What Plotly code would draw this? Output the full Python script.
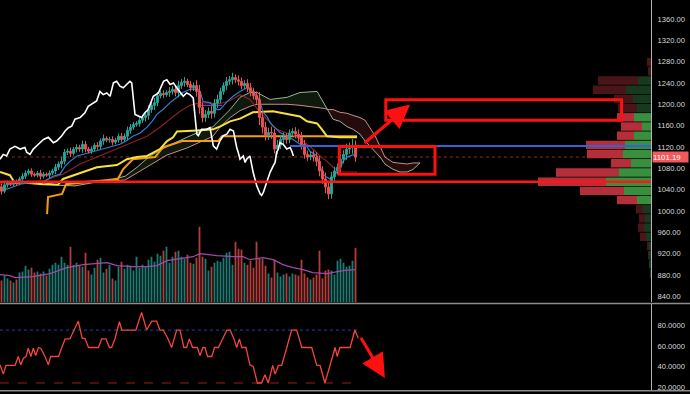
import plotly.graph_objects as go

# ---------------- data ----------------
CLOSE = [1037, 1049, 1052, 1050, 1054, 1052, 1060, 1065, 1071, 1075,
         1069, 1067, 1071, 1065, 1069, 1067, 1071, 1075, 1082, 1088,
         1093, 1110, 1112, 1108, 1116, 1119, 1116, 1125, 1116, 1112,
         1116, 1123, 1121, 1131, 1136, 1133, 1134, 1129, 1133, 1140,
         1134, 1140, 1151, 1157, 1162, 1164, 1170, 1175, 1179, 1190,
         1198, 1203, 1216, 1220, 1218, 1222, 1224, 1228, 1222, 1235,
         1241, 1243, 1237, 1231, 1235, 1224, 1194, 1175, 1181, 1187,
         1183, 1202, 1209, 1224, 1235, 1243, 1246, 1250, 1246, 1243,
         1235, 1239, 1231, 1224, 1216, 1209, 1175, 1157, 1142, 1147,
         1146, 1116, 1123, 1134, 1138, 1134, 1146, 1149, 1144, 1138,
         1125, 1106, 1101, 1105, 1101, 1093, 1075, 1060, 1045, 1032,
         1064, 1075, 1082, 1097, 1106, 1116, 1119, 1123, 1101.19]
FIRST_OPEN = 1045
WICK = [6, 4, 5, 3, 4, 5, 4, 6, 5, 4, 5, 3, 4, 6, 4, 3, 5, 4, 6, 5,
        8, 6, 5, 7, 4, 6, 5, 7, 6, 4, 5, 4, 6, 5, 7, 4, 5, 6, 4, 5,
        6, 5, 7, 6, 5, 4, 6, 5, 7, 8, 6, 9, 7, 5, 6, 4, 8, 6, 7, 9,
        6, 8, 5, 7, 6, 10, 12, 9, 8, 7, 10, 8, 9, 7, 6, 8, 7, 9, 6, 8,
        7, 6, 8, 9, 7, 8, 14, 12, 10, 9, 11, 8, 10, 7, 9, 8, 7, 6, 8, 9,
        10, 8, 7, 6, 8, 9, 10, 9, 12, 10, 9, 8, 7, 9, 8, 10, 9, 12, 9]
VOLUME = [22, 27, 24, 22, 20, 23, 30, 31, 37, 33, 35, 30, 31, 29, 31, 27, 34, 38, 40, 38,
          46, 40, 38, 56, 38, 40, 37, 36, 50, 32, 28, 35, 43, 45, 30, 34, 38, 24, 22, 36,
          41, 34, 38, 37, 32, 46, 35, 38, 36, 43, 46, 41, 49, 47, 52, 56, 40, 46, 51, 52,
          46, 44, 48, 40, 39, 45, 76, 46, 44, 32, 36, 40, 42, 41, 45, 50, 51, 38, 61, 54,
          53, 40, 38, 42, 35, 61, 44, 44, 37, 29, 25, 43, 30, 26, 28, 29, 26, 29, 28, 27,
          43, 29, 25, 23, 25, 28, 52, 24, 32, 33, 32, 28, 42, 44, 40, 36, 37, 42, 55]
VOL_MA_X = [-0.5, 2.8, 4.5, 10.5, 16.2, 21.8, 27.2, 32.8, 35.2, 38.5, 43.8, 48.5, 51.8, 55.2, 59.5,
            63.8, 66.2, 68.5, 71.8, 77.2, 80.5, 82.8, 87.2, 90.5, 93.8, 97.2, 100.5, 103.8, 108.5, 113.8, 117.8]
VOL_MA = [28, 27, 25, 26, 29, 35, 38, 39, 40, 37, 36, 36, 37, 42, 44,
          46, 49, 48, 47, 46, 46, 43, 45, 43, 38, 35, 33, 30, 29, 32, 33]

WHITE_X = [-0.5, 0.6, 1.7, 2.8, 4.5, 6.2, 7.8, 8.4, 9.5, 10.6, 12.3, 14, 15.6, 17.3, 18.4, 20.1, 21.2, 22.3,
           23.4, 24.5, 26.2, 27.8, 28.9, 30.1, 31.7, 32.8, 33.9, 35.1, 36.2, 37.3, 38.4, 39.5, 40.6, 41.7,
           42.8, 43.4, 44.5, 45.6, 46.7, 47.8, 48.9, 50.6, 52.3, 54, 55.1, 56.2, 57.3, 58.4, 59.5, 60.6,
           61.7, 62.8, 63.9, 65.1, 65.6, 66.7, 68.4, 69.5, 70.6, 71.7, 72.8, 73.9, 75.1, 76.2, 77.3, 77.8,
           78.4, 78.9, 79.5, 80.6, 81.2, 81.7, 82.8, 83.9, 85.1, 86.2, 86.7, 87.3, 88.4, 89.5, 90.6, 91.2,
           91.7, 92.3, 92.8, 93.9, 95.1, 96.2, 96.7, 97.3]
WHITE_Y = [1097, 1106, 1103, 1116, 1121, 1116, 1119, 1110, 1106, 1116, 1125, 1134, 1138, 1128, 1131, 1141,
           1150, 1156, 1159, 1172, 1175, 1184, 1196, 1200, 1206, 1224, 1218, 1221, 1215, 1240, 1243, 1234,
           1231, 1237, 1243, 1240, 1181, 1178, 1175, 1184, 1190, 1215, 1221, 1243, 1246, 1237, 1240, 1231,
           1224, 1215, 1221, 1218, 1212, 1144, 1141, 1153, 1153, 1156, 1122, 1116, 1131, 1141, 1144, 1153,
           1150, 1134, 1119, 1110, 1097, 1103, 1091, 1097, 1103, 1072, 1047, 1032, 1029, 1035, 1054, 1072,
           1085, 1091, 1110, 1116, 1128, 1125, 1116, 1119, 1113, 1103]

BLUE_X = [-0.5, 1.8, 3.8, 6.2, 8.5, 13.8, 17.2, 19.5, 21.2, 22.8, 25.2, 28.5, 31.8, 36.2, 39.5, 41.8, 43.8,
          46.2, 48.5, 50.2, 51.8, 53.8, 56.2, 58.5, 60.5, 62.8, 65.2, 66.2, 67.2, 69.5, 71.8, 72.8, 75.2,
          77.2, 79.5, 81.8, 82.8, 83.8, 85.2, 86.2, 87.2, 88.5, 89.5, 90.5, 91.8, 92.8, 95.2, 97.2, 99.5,
          101.8, 102.8, 105.2, 106.2, 107.2, 108.5, 109.5, 110.5, 111.8, 112.8, 113.8, 115.2, 117.2, 118.5]
BLUE_Y = [1045, 1041, 1045, 1050, 1052, 1054, 1065, 1069, 1084, 1093, 1103, 1108, 1112, 1119, 1125, 1132, 1140,
          1146, 1157, 1168, 1181, 1190, 1203, 1213, 1222, 1228, 1229, 1224, 1205, 1203, 1190, 1190, 1205,
          1215, 1224, 1231, 1228, 1224, 1215, 1203, 1185, 1177, 1166, 1159, 1153, 1147, 1140, 1134, 1125,
          1121, 1112, 1103, 1084, 1069, 1063, 1060, 1063, 1073, 1078, 1093, 1101, 1105, 1106]

MAROON_X = [-0.5, 13.8, 17.2, 20.5, 26.2, 32.8, 40.5, 43.8, 48.5, 52.8, 56.2, 59.5, 62.8, 66.2, 72.8,
            76.2, 79.5, 82.8, 86.2, 88.5, 91.8, 93.8, 98.8, 101.8, 103.8, 106.2, 108.5, 110.5, 112.8, 118.5]
MAROON_Y = [1052, 1056, 1063, 1069, 1088, 1103, 1121, 1129, 1140, 1157, 1172, 1187, 1198, 1203, 1201,
            1207, 1218, 1209, 1185, 1172, 1153, 1149, 1138, 1125, 1116, 1103, 1093, 1082, 1073, 1073]

YELLOW_X = [-0.5, 2.8, 4.5, 6.2, 13.8, 18.8, 20.5, 25.2, 31.8, 38.5, 41.8, 45.2, 48.5, 52.8, 55.2, 57.2,
            58.5, 65.2, 70.5, 72.8, 76.2, 79.5, 83.8, 90.5, 99.5, 101.8, 105.2, 106.8, 108.5, 112.8, 118.5]
YELLOW_Y = [1073, 1067, 1052, 1054, 1050, 1049, 1060, 1069, 1082, 1086, 1097, 1101, 1103, 1116, 1131, 1138,
            1149, 1151, 1153, 1158, 1168, 1173, 1185, 1187, 1177, 1168, 1164, 1153, 1140, 1138, 1138]

ORANGE_X = [15.2, 15.5, 20.2, 21.5, 38.8, 40.5, 43.8, 51.2, 53.8, 58.8, 60.2, 72.2, 73.5, 118.5]
ORANGE_Y = [994, 1026, 1032, 1050, 1060, 1078, 1097, 1101, 1119, 1129, 1131, 1131, 1140, 1140]

PURPLE_X = [65.2, 73.5]
PURPLE_Y = [1198, 1198]

CLOUD_X = [-0.5, 12.8, 19.5, 24.5, 29.5, 36.2, 41.2, 45.2, 49.5, 55.2, 61.8, 66.2, 70.5, 72.8, 76.2,
           79.5, 82.8, 85.2, 89.5, 95.2, 99.5, 105.2, 107.8, 108.8, 110.5, 112.8, 115.2, 117.2, 119.5,
           121.2, 122.8, 124.5, 126.2, 127.8, 130.5, 132.8, 135.2, 137.2, 139.5]
SPAN_A = [1054, 1054, 1048, 1047, 1052, 1058, 1065, 1082, 1103, 1121, 1138, 1149, 1158, 1171, 1190,
          1213, 1222, 1222, 1209, 1213, 1222, 1224, 1198, 1190, 1172, 1168, 1158, 1153, 1144, 1131,
          1121, 1112, 1101, 1088, 1078, 1073, 1073, 1078, 1090]
SPAN_B = [1054, 1054, 1054, 1054, 1056, 1056, 1058, 1071, 1086, 1105, 1118, 1129, 1140, 1157, 1175,
          1188, 1196, 1200, 1200, 1200, 1198, 1194, 1192, 1190, 1190, 1185, 1183, 1179, 1175, 1170,
          1155, 1141, 1121, 1101, 1091, 1090, 1088, 1090, 1090]
CLOUD_CROSS = 23  # index in CLOUD_X where the spans cross

PROFILE_PRICE = [1278.9, 1261.7, 1244.4, 1227.2, 1210.0, 1192.7, 1175.5, 1158.3, 1141.1, 1123.8,
                 1106.6, 1089.4, 1072.1, 1054.9, 1037.7, 1020.5, 1003.2, 986.0, 968.8, 951.5,
                 934.3, 917.1, 899.9, 882.6]
PROFILE_SELL = [4, 3, 40, 33, 19, 19, 17, 21, 17, 39, 36, 20, 63, 68, 44, 20, 7, 6, 6, 6, 1.5, 0.5, 0, 0]
PROFILE_BUY = [0, 0, 13, 25, 18, 14, 17, 9, 17, 26, 28, 20, 32, 45, 27, 14, 8, 6, 7, 5, 2.5, 2, 1.5, 1]
VALUE_AREA = (1012, 1184)

OSC_X = [-0.5, 0.6, 1.5, 4.5, 5.6, 6.4, 7.3, 8.2, 8.9, 9.8, 10.6, 11.4, 12.3, 13.1, 14.5, 15.6, 16.4, 19,
         20.1, 21.2, 22.8, 24.2, 25.6, 26.9, 27.8, 29, 32.3, 33.4, 34.8, 36, 36.7, 37.8, 39.3, 40.1, 44.8,
         46.7, 48.4, 50.1, 51.7, 52.8, 53.9, 55.4, 56.7, 58.4, 59.5, 60.8, 61.7, 62.6, 63.7, 65.3, 66.2,
         67.1, 67.8, 68.7, 70.1, 71, 72.3, 73.7, 75.1, 76.2, 77.5, 78.4, 79.3, 80.1, 81.5, 82.8, 83.9,
         85.3, 86.7, 87.8, 88.9, 90.4, 91.2, 92.3, 93.4, 95.1, 96.7, 98.4, 100.1, 103.4, 105.1, 106.2,
         107.8, 109.5, 111.2, 111.9, 112.8, 116.2, 117.8, 118.9]
OSC_Y = [41.9, 33.0, 41.3, 41.3, 49.9, 41.9, 48.3, 49.9, 57.8, 49.9, 57.8, 50.8, 58.5, 57.8, 49.9, 41.9,
         49.9, 49.9, 58.5, 66.7, 66.7, 75.2, 83.8, 67.3, 67.3, 58.5, 58.5, 66.7, 66.7, 58.5, 58.5, 66.7,
         83.2, 75.2, 75.2, 92.1, 75.2, 83.8, 83.8, 75.2, 75.2, 67.3, 58.5, 75.2, 75.2, 58.5, 58.5, 66.7,
         58.5, 58.5, 50.8, 58.5, 58.5, 49.9, 49.9, 58.5, 58.5, 66.7, 75.2, 75.2, 66.7, 58.5, 66.7, 58.5,
         58.5, 41.9, 40.4, 24.5, 24.5, 32.4, 24.5, 41.3, 33.0, 41.3, 41.3, 58.5, 75.2, 75.2, 58.5, 58.5,
         41.3, 41.3, 24.5, 41.3, 58.5, 49.9, 58.5, 58.5, 75.2, 67.3]
OSC_UPPER = 75.2
OSC_LOWER = 24.5

LAST_PRICE = 1101.19
SUPPORT = 1054.7
RESISTANCE = 1121.8
RESISTANCE_START = 96.2
BOX_TARGET = dict(x0=128.1, x1=206.7, y0=1170.1, y1=1208.3)
BOX_NOW = dict(x0=112.6, x1=144.5, y0=1069.0, y1=1120.7)
ARROW_UP = dict(x=136.2, y=1199.6, ax=120.5, ay=1125)
ARROW_DOWN = dict(x=127.8, y=29.2, ax=119.5, ay=69.2)

PRICE_TICKS = list(range(840, 1361, 40))
OSC_TICKS = [20, 40, 60, 80]

# ---------------- derived series ----------------
N = len(CLOSE)
IDX = list(range(N))
OPEN = [FIRST_OPEN] + CLOSE[:-1]
HIGH = [max(o, c) + w for o, c, w in zip(OPEN, CLOSE, WICK)]
LOW = [min(o, c) - w for o, c, w in zip(OPEN, CLOSE, WICK)]

UP = "#26a69a"
DOWN = "#ef5350"
vol_colors = ["rgba(38,166,154,0.75)" if c >= o else "rgba(239,83,80,0.75)" for o, c in zip(OPEN, CLOSE)]

fig = go.Figure()

# Ichimoku-like cloud fills
k = CLOUD_CROSS
gx = CLOUD_X[:k + 1] + CLOUD_X[:k + 1][::-1]
gy = SPAN_A[:k + 1] + SPAN_B[:k + 1][::-1]
fig.add_trace(go.Scatter(x=gx, y=gy, fill="toself", fillcolor="rgba(70,120,70,0.22)",
                         line=dict(width=0), mode="lines", hoverinfo="skip"))
rx = CLOUD_X[k:] + CLOUD_X[k:][::-1]
ry = SPAN_A[k:] + SPAN_B[k:][::-1]
fig.add_trace(go.Scatter(x=rx, y=ry, fill="toself", fillcolor="rgba(120,40,40,0.30)",
                         line=dict(width=0), mode="lines", hoverinfo="skip"))
fig.add_trace(go.Scatter(x=CLOUD_X, y=SPAN_B, mode="lines", line=dict(color="#c98b8b", width=1)))
fig.add_trace(go.Scatter(x=CLOUD_X, y=SPAN_A, mode="lines", line=dict(color="#9fb08f", width=1)))

fig.add_trace(go.Scatter(x=ORANGE_X, y=ORANGE_Y, mode="lines", line=dict(color="#f59b12", width=2)))
fig.add_trace(go.Scatter(x=YELLOW_X, y=YELLOW_Y, mode="lines", line=dict(color="#f7e23a", width=2)))
fig.add_trace(go.Scatter(x=MAROON_X, y=MAROON_Y, mode="lines", line=dict(color="#8e1f1f", width=1.2)))
fig.add_trace(go.Scatter(x=PURPLE_X, y=PURPLE_Y, mode="lines", line=dict(color="#8a3fa0", width=1.2)))
fig.add_trace(go.Scatter(x=BLUE_X, y=BLUE_Y, mode="lines", line=dict(color="#2f7fd6", width=1.2)))

# volume (overlay axis y3)
fig.add_trace(go.Bar(x=IDX, y=VOLUME, marker=dict(color=vol_colors, line=dict(width=0)),
                     width=0.6, xaxis="x", yaxis="y3"))
fig.add_trace(go.Scatter(x=VOL_MA_X, y=VOL_MA, mode="lines", line=dict(color="#a04aa8", width=1.2),
                         xaxis="x", yaxis="y3"))

# volume profile (overlay axis x3)
bright = [VALUE_AREA[0] <= p <= VALUE_AREA[1] for p in PROFILE_PRICE]
fig.add_trace(go.Bar(y=PROFILE_PRICE, x=PROFILE_BUY, orientation="h", width=15.8,
                     marker=dict(color=["#3a8f3e" if b else "#173a1e" for b in bright], line=dict(width=0)),
                     xaxis="x3", yaxis="y"))
fig.add_trace(go.Bar(y=PROFILE_PRICE, x=PROFILE_SELL, base=PROFILE_BUY, orientation="h", width=15.8,
                     marker=dict(color=["#b52f3b" if b else "#4a1519" for b in bright], line=dict(width=0)),
                     xaxis="x3", yaxis="y"))

# candles + white overlay line (overlay axis y4, drawn on top)
fig.add_trace(go.Candlestick(x=IDX, open=OPEN, high=HIGH, low=LOW, close=CLOSE,
                             increasing=dict(line=dict(color=UP, width=1), fillcolor=UP),
                             decreasing=dict(line=dict(color=DOWN, width=1), fillcolor=DOWN),
                             whiskerwidth=0, xaxis="x", yaxis="y4"))
fig.add_trace(go.Scatter(x=WHITE_X, y=WHITE_Y, mode="lines", line=dict(color="#ffffff", width=1.6),
                         xaxis="x", yaxis="y4"))

# oscillator panel
xr = [IDX[0] - 0.5, IDX[-1] + 0.5]
fig.add_trace(go.Scatter(x=xr, y=[OSC_UPPER] * 2, mode="lines",
                         line=dict(color="#1f2e9a", width=1.2, dash="dot"), xaxis="x2", yaxis="y2"))
fig.add_trace(go.Scatter(x=xr, y=[OSC_LOWER] * 2, mode="lines",
                         line=dict(color="#a3191c", width=1.2, dash="dash"), xaxis="x2", yaxis="y2"))
fig.add_trace(go.Scatter(x=OSC_X, y=OSC_Y, mode="lines", line=dict(color="#f2463c", width=1.3),
                         xaxis="x2", yaxis="y2"))

W, H = 690, 394
main_bottom_px = 304
low_top_px, low_bot_px = 306, 392
PRICE_RANGE = [828.5, 1395.4]
XR = [-0.5, 216.5]

tickfont = dict(family="Liberation Sans, Arial, sans-serif", size=7.6, color="#d9d9d9")
axis_common = dict(showgrid=False, zeroline=False)

fig.update_layout(
    width=W, height=H, margin=dict(l=0, r=39, t=0, b=0, pad=0),
    paper_bgcolor="#000000", plot_bgcolor="#000000", showlegend=False, barmode="overlay",
    boxgap=0.12,
    xaxis=dict(domain=[0, 1], range=XR, visible=False, anchor="y", rangeslider=dict(visible=False), **axis_common),
    xaxis2=dict(domain=[0, 1], range=XR, visible=False, anchor="y2", matches="x", **axis_common),
    xaxis3=dict(range=[651, 0], overlaying="x", visible=False, anchor="y", **axis_common),
    yaxis=dict(domain=[1 - main_bottom_px / H, 1], range=PRICE_RANGE, side="right", anchor="x",
               tickvals=PRICE_TICKS, ticktext=[f"{v:.2f}" for v in PRICE_TICKS], tickfont=tickfont,
               ticks="outside", ticklen=4, tickcolor="rgba(0,0,0,0)", ticklabeloverflow="allow",
               showline=True, linecolor="#b4b4b4", linewidth=1, **axis_common),
    yaxis2=dict(domain=[(H - low_bot_px) / H, (H - low_top_px) / H], range=[17.8, 99.7], side="right",
                anchor="x2", tickvals=OSC_TICKS, ticktext=[f"{v:.4f}" for v in OSC_TICKS], tickfont=tickfont,
                ticks="outside", ticklen=4, tickcolor="rgba(0,0,0,0)", ticklabeloverflow="allow",
                showline=True, linecolor="#b4b4b4", linewidth=1, **axis_common),
    yaxis3=dict(range=[0, main_bottom_px], overlaying="y", visible=False, anchor="x", **axis_common),
    yaxis4=dict(range=PRICE_RANGE, overlaying="y", visible=False, anchor="x", **axis_common),
)

shapes = [
    dict(type="line", xref="paper", yref="y", x0=0, x1=1, y0=LAST_PRICE, y1=LAST_PRICE,
         line=dict(color="#8c2a2a", width=1, dash="dot"), layer="below"),
    dict(type="line", xref="x", yref="y", x0=XR[0], x1=XR[1], y0=SUPPORT, y1=SUPPORT,
         line=dict(color="#ff1616", width=2.5), layer="above"),
    dict(type="line", xref="x", yref="y", x0=RESISTANCE_START, x1=XR[1], y0=RESISTANCE, y1=RESISTANCE,
         line=dict(color="#3463d9", width=2), layer="above"),
    dict(type="rect", xref="x", yref="y", line=dict(color="#ff1010", width=3), layer="above", **BOX_TARGET),
    dict(type="rect", xref="x", yref="y", line=dict(color="#ff1010", width=3), layer="above", **BOX_NOW),
    dict(type="line", xref="paper", yref="paper", x0=0, x1=W / 651, y0=(H - 305) / H, y1=(H - 305) / H,
         line=dict(color="#8d8d8d", width=1.5)),
    dict(type="line", xref="paper", yref="paper", x0=0, x1=W / 651, y0=(H - 392.7) / H, y1=(H - 392.7) / H,
         line=dict(color="#8d8d8d", width=1.5)),
]
fig.update_layout(shapes=shapes)

fig.add_annotation(x=ARROW_UP["x"], y=ARROW_UP["y"], ax=ARROW_UP["ax"], ay=ARROW_UP["ay"],
                   xref="x", yref="y", axref="x", ayref="y", text="", showarrow=True,
                   arrowhead=2, arrowsize=1.6, arrowwidth=3, arrowcolor="#ff1010")
fig.add_annotation(x=ARROW_DOWN["x"], y=ARROW_DOWN["y"], ax=ARROW_DOWN["ax"], ay=ARROW_DOWN["ay"],
                   xref="x2", yref="y2", axref="x2", ayref="y2", text="", showarrow=True,
                   arrowhead=2, arrowsize=1.6, arrowwidth=3, arrowcolor="#ff1010")
fig.add_annotation(x=1, xref="paper", y=LAST_PRICE, yref="y", text=f"{LAST_PRICE:.2f}", showarrow=False,
                   xanchor="left", xshift=1, bgcolor="#f05a5a", width=35, height=10, borderpad=0, align="left",
                   font=dict(family="Liberation Sans, Arial, sans-serif", size=7.8, color="#ffffff"))

fig.write_html("out.html")
